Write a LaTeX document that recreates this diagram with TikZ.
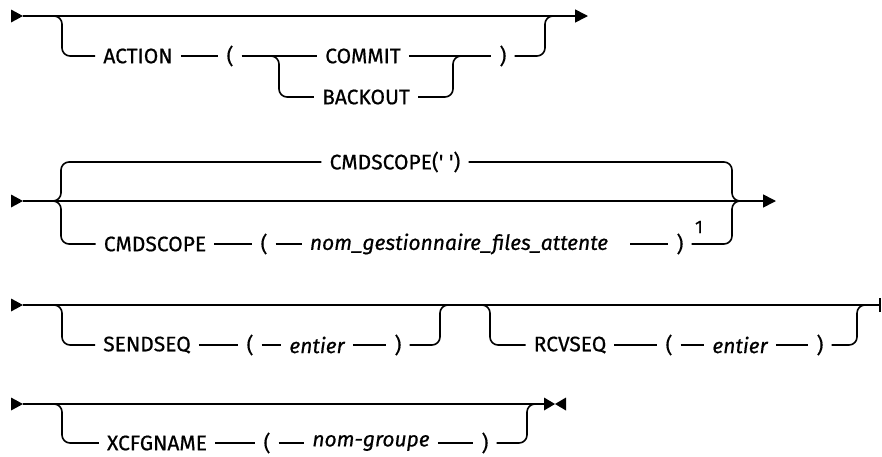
\documentclass[tikz,border=0pt]{standalone}
\usepackage{fontspec}
\setmainfont{Fira Sans}
\newfontfamily\railfont{Fira Sans}[FakeBold=0.6]
\usepackage{tikz}
\usetikzlibrary{arrows.meta, positioning}

\begin{document}
\begin{tikzpicture}[
  x=1pt, y=-1pt,
  rail/.style={line width=1.6pt, rounded corners=8pt},
  arr/.style={-{Triangle[length=13pt, width=13pt]}, line width=1.6pt},
  kw/.style={font=\railfont\fontsize{21}{25}\selectfont, inner xsep=8pt, inner ysep=2pt},
  var/.style={kw, font=\railfont\fontsize{21}{25}\selectfont\itshape},
  note/.style={font=\railfont\fontsize{18}{22}\selectfont, inner sep=1pt},
]
  \useasboundingbox (0,0) rectangle (882,456);

  %% ── Row 1: ACTION ───────────────────────────────────────────────────────
  \coordinate (r1s) at (23,16);
  \coordinate (r1e) at (588,16);
  \node[kw] (action)  at (138,56) {ACTION};
  \node[kw] (lp1)     at (230,56) {(};
  \node[kw] (commit)  at (363,56) {COMMIT};
  \node[kw] (backout) at (366,97) {BACKOUT};
  \node[kw] (rp1)     at (503,56) {)};
  \coordinate (b1) at (54,16);
  \coordinate (b2) at (271,56);
  \coordinate (j2) at (453,56);
  \coordinate (j1) at (545,16);

  \fill (r1s) -- ++(-12,-6.5) -- ++(0,13) -- cycle;
  \draw[arr] (r1s) -- (r1e);
  \draw[rail] (b1) -| ++(8,40) -- (action);
  \draw[rail] (action) -- (lp1);
  \draw[rail] (lp1) -- (commit);
  \draw[rail] (b2) -| ++(8,41) -- (backout);
  \draw[rail] (commit) -- (rp1);
  \draw[rail] (backout.east) -| (j2) -- ++(8,0);
  \draw[rail] (rp1.east) -| (j1) -- ++(8,0);

  %% ── Row 2: CMDSCOPE ─────────────────────────────────────────────────────
  \coordinate (r2s) at (23,201);
  \coordinate (r2e) at (776,201);
  \node[kw]  (cmddef)   at (395,162) {CMDSCOPE(' ')};
  \node[kw]  (cmdscope) at (155,244) {CMDSCOPE};
  \node[kw]  (lp2)      at (264,244) {(};
  \node[var] (qmgr)     at (459,244) {nom\_gestionnaire\_files\_attente};
  \node[kw]  (rp2)      at (680,244) {)};
  \node[note] (fn1)     at (699,227) {1};
  \coordinate (b3) at (53,201);
  \coordinate (j3) at (732,201);

  \fill (r2s) -- ++(-12,-6.5) -- ++(0,13) -- cycle;
  \draw[arr] (r2s) -- (r2e);
  \draw[rail] (b3) -| ++(8,-39) -- (cmddef);
  \draw[rail] (b3) -| ++(8,43) -- (cmdscope);
  \draw[rail] (cmddef.east) -| (j3) -- ++(8,0);
  \draw[rail] (cmdscope) -- (lp2);
  \draw[rail] (lp2) -- (qmgr);
  \draw[rail] ([xshift=14pt]qmgr.east) -- (rp2);
  \draw[rail] (rp2.east) -| (j3) -- ++(8,0);

  %% ── Row 3: SENDSEQ / RCVSEQ ─────────────────────────────────────────────
  \coordinate (r3s) at (23,305);
  \coordinate (r3e) at (880,305);
  \node[kw]  (sendseq) at (147,345) {SENDSEQ};
  \node[kw]  (lp3)     at (250,345) {(};
  \node[var] (int1)    at (317,345) {entier};
  \node[kw]  (rp3)     at (398,345) {)};
  \node[kw]  (rcvseq)  at (570,345) {RCVSEQ};
  \node[kw]  (lp4)     at (669,345) {(};
  \node[var] (int2)    at (740,345) {entier};
  \node[kw]  (rp4)     at (820,345) {)};
  \coordinate (b4) at (54,305);
  \coordinate (j4) at (440,305);
  \coordinate (b5) at (482,305);
  \coordinate (j5) at (857,305);

  \fill (r3s) -- ++(-12,-6.5) -- ++(0,13) -- cycle;
  \draw[line width=1.6pt] (r3s) -- (r3e);
  \draw[line width=1.6pt] ([yshift=-7pt]r3e) -- ([yshift=7pt]r3e);
  \draw[rail] (b4) -| ++(8,40) -- (sendseq);
  \draw[rail] (sendseq) -- (lp3);
  \draw[rail] (lp3) -- (int1);
  \draw[rail] (int1) -- (rp3);
  \draw[rail] (rp3.east) -| (j4) -- ++(8,0);
  \draw[rail] (b5) -| ++(8,40) -- (rcvseq);
  \draw[rail] (rcvseq) -- (lp4);
  \draw[rail] (lp4) -- (int2);
  \draw[rail] (int2) -- (rp4);
  \draw[rail] (rp4.east) -| (j5) -- ++(8,0);

  %% ── Row 4: XCFGNAME ─────────────────────────────────────────────────────
  \coordinate (r4s) at (23,404);
  \coordinate (r4e) at (555,404);
  \node[kw]  (xcfg) at (157,443) {XCFGNAME};
  \node[kw]  (lp5)  at (267,443) {(};
  \node[var] (grp)  at (371,443) {nom-groupe};
  \node[kw]  (rp5)  at (485,443) {)};
  \coordinate (b6) at (54,404);
  \coordinate (j6) at (527,404);

  \fill (r4s) -- ++(-12,-6.5) -- ++(0,13) -- cycle;
  \draw[line width=1.6pt] (r4s) -- ([xshift=-11pt]r4e);
  \fill (r4e) -- ++(-11,-6.5) -- ++(0,13) -- cycle;
  \fill (r4e) -- ++(11,-6.5) -- ++(0,13) -- cycle;
  \draw[rail] (b6) -| ++(8,39) -- (xcfg);
  \draw[rail] (xcfg) -- (lp5);
  \draw[rail] (lp5) -- (grp);
  \draw[rail] (grp) -- (rp5);
  \draw[rail] (rp5.east) -| (j6) -- ++(8,0);

\end{tikzpicture}
\end{document}
